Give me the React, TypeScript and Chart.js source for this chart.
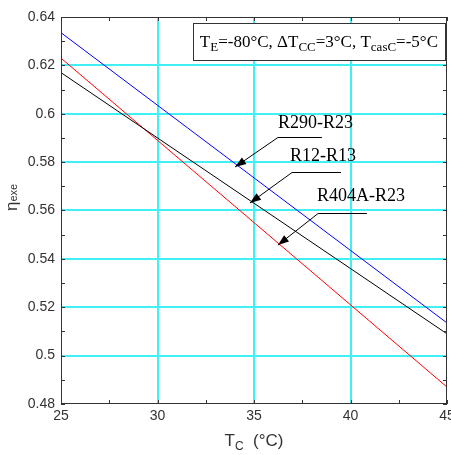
import React, { useEffect, useRef } from 'react';
import { Chart, registerables } from 'chart.js';

Chart.register(...registerables);

const tcValues = [25, 30, 35, 40, 45];
const r290R23 = [0.6335, 0.6035, 0.5735, 0.5435, 0.5135];
const r12R13 = [0.617, 0.590, 0.563, 0.536, 0.509];
const r404aR23 = [0.623, 0.589, 0.555, 0.521, 0.487];
const seriesLabels = ['R290-R23', 'R12-R13', 'R404A-R23'];
const seriesColors = ['#0000ff', '#000000', '#ff0000'];
const xMin = 25, xMax = 45, xStep = 5, xMinorStep = 2.5;
const yMin = 0.48, yMax = 0.64, yStep = 0.02, yMinorStep = 0.01;

// callouts in data coordinates: text left/baseline, horizontal leader (x1..x2 at y), arrow tip
const calloutTextX = [36.24, 36.87, 38.26];
const calloutTextY = [0.5941, 0.5805, 0.564];
const calloutLineX1 = [36.24, 36.97, 38.32];
const calloutLineX2 = [38.52, 39.51, 40.85];
const calloutLineY = [0.5904, 0.5759, 0.559];
const calloutTipX = [34.02, 34.79, 36.24];
const calloutTipY = [0.578, 0.5631, 0.5457];

const SERIF = '"Liberation Serif", "Times New Roman", serif';
const SANS = '"Liberation Sans", Arial, sans-serif';
const GRID = '#3ff0f5';
const FRAME = '#333333';

type Piece = { t: string; sub?: boolean };

function drawPieces(ctx: CanvasRenderingContext2D, pieces: Piece[], x: number, y: number, size: number, subSize: number, family: string, subDrop: number) {
  let cx = x;
  for (const p of pieces) {
    ctx.font = `${p.sub ? subSize : size}px ${family}`;
    ctx.fillText(p.t, cx, p.sub ? y + subDrop : y);
    cx += ctx.measureText(p.t).width;
  }
  return cx - x;
}
function measurePieces(ctx: CanvasRenderingContext2D, pieces: Piece[], size: number, subSize: number, family: string) {
  let w = 0;
  for (const p of pieces) {
    ctx.font = `${p.sub ? subSize : size}px ${family}`;
    w += ctx.measureText(p.t).width;
  }
  return w;
}

const decorPlugin = {
  id: 'decor',
  afterDatasetsDraw(chart: any) {
    const ctx: CanvasRenderingContext2D = chart.ctx;
    const area = chart.chartArea;
    const xs = chart.scales.x;
    const ys = chart.scales.y;
    ctx.save();
    // frame
    ctx.strokeStyle = FRAME;
    ctx.lineWidth = 1;
    ctx.strokeRect(Math.round(area.left) + 0.5, Math.round(area.top) + 0.5, Math.round(area.right - area.left) - 1, Math.round(area.bottom - area.top) - 1);
    // inside ticks
    ctx.beginPath();
    const tl = 4;
    for (let v = xMin; v <= xMax + 1e-9; v += xMinorStep) {
      const px = Math.round(xs.getPixelForValue(v)) + 0.5;
      ctx.moveTo(px, area.bottom); ctx.lineTo(px, area.bottom - tl);
      ctx.moveTo(px, area.top); ctx.lineTo(px, area.top + tl);
    }
    for (let v = yMin; v <= yMax + 1e-9; v += yMinorStep) {
      const py = Math.round(ys.getPixelForValue(v)) + 0.5;
      ctx.moveTo(area.left, py); ctx.lineTo(area.left + tl, py);
      ctx.moveTo(area.right, py); ctx.lineTo(area.right - tl, py);
    }
    ctx.stroke();

    // callouts
    ctx.fillStyle = '#000';
    ctx.strokeStyle = '#000';
    ctx.textBaseline = 'alphabetic';
    ctx.textAlign = 'left';
    for (let i = 0; i < seriesLabels.length; i++) {
      ctx.font = `18px ${SERIF}`;
      ctx.fillText(seriesLabels[i], xs.getPixelForValue(calloutTextX[i]), ys.getPixelForValue(calloutTextY[i]));
      const x1 = xs.getPixelForValue(calloutLineX1[i]);
      const x2 = xs.getPixelForValue(calloutLineX2[i]);
      const ly = Math.round(ys.getPixelForValue(calloutLineY[i])) + 0.5;
      const tx = xs.getPixelForValue(calloutTipX[i]);
      const ty = ys.getPixelForValue(calloutTipY[i]);
      ctx.beginPath();
      ctx.moveTo(x2, ly); ctx.lineTo(x1, ly); ctx.lineTo(tx, ty);
      ctx.stroke();
      const ang = Math.atan2(ty - ly, tx - x1);
      const L = 11, W = 4;
      const bx = tx - L * Math.cos(ang), by = ty - L * Math.sin(ang);
      ctx.beginPath();
      ctx.moveTo(tx, ty);
      ctx.lineTo(bx + W * Math.sin(ang), by - W * Math.cos(ang));
      ctx.lineTo(bx - W * Math.sin(ang), by + W * Math.cos(ang));
      ctx.closePath();
      ctx.fill();
    }

    // condition box
    const pieces: Piece[] = [
      { t: 'T' }, { t: 'E', sub: true }, { t: '=-80°C, ΔT' }, { t: 'CC', sub: true },
      { t: '=3°C, T' }, { t: 'casC', sub: true }, { t: '=-5°C' },
    ];
    const size = 17, subSize = 13;
    const w = measurePieces(ctx, pieces, size, subSize, SERIF);
    const boxRight = area.right - 2;
    const boxLeft = boxRight - w - 14;
    const boxTop = area.top + 6;
    const boxBottom = area.top + 43;
    ctx.fillStyle = '#fff';
    ctx.fillRect(boxLeft, boxTop, boxRight - boxLeft, boxBottom - boxTop);
    ctx.strokeStyle = '#333';
    ctx.strokeRect(Math.round(boxLeft) + 0.5, Math.round(boxTop) + 0.5, Math.round(boxRight - boxLeft), Math.round(boxBottom - boxTop));
    ctx.fillStyle = '#000';
    drawPieces(ctx, pieces, boxLeft + 7, boxTop + 24, size, subSize, SERIF, 4);

    // axis titles
    ctx.fillStyle = '#333';
    const xt: Piece[] = [{ t: 'T' }, { t: 'C', sub: true }, { t: '  (°C)' }];
    const xw = measurePieces(ctx, xt, 17, 12, SANS);
    drawPieces(ctx, xt, (area.left + area.right) / 2 - xw / 2, 446, 17, 12, SANS, 4);
    ctx.translate(17, 211);
    ctx.rotate(-Math.PI / 2);
    const yt: Piece[] = [{ t: 'η' }, { t: 'exe', sub: true }];
    drawPieces(ctx, yt, 0, 0, 17, 11, SANS, 0);
    ctx.restore();
  },
};

export default function App() {
  const ref = useRef<HTMLCanvasElement | null>(null);
  useEffect(() => {
    if (!ref.current) return;
    const mk = (vals: number[]) => tcValues.map((x, i) => ({ x, y: vals[i] }));
    const series = [r290R23, r12R13, r404aR23];
    const chart = new Chart(ref.current, {
      type: 'line',
      data: {
        datasets: series.map((s, i) => ({
          label: seriesLabels[i],
          data: mk(s),
          borderColor: seriesColors[i],
          borderWidth: 1,
          pointRadius: 0,
          tension: 0,
          fill: false,
        })),
      },
      options: {
        responsive: false,
        animation: false,
        events: [],
        layout: { padding: { left: 0, right: 4, top: 17, bottom: 0 } },
        plugins: { legend: { display: false }, tooltip: { enabled: false }, title: { display: false } },
        scales: {
          x: {
            type: 'linear',
            min: xMin, max: xMax,
            afterFit: (s: any) => { s.height = 51; s.paddingRight = 0; s.paddingLeft = 0; },
            ticks: { stepSize: xStep, color: '#333', font: { family: SANS, size: 14 }, padding: 4, maxRotation: 0 },
            grid: {
              drawTicks: false,
              lineWidth: 2,
              color: (c: any) => (c.tick && c.tick.value > xMin && c.tick.value < xMax ? GRID : 'rgba(0,0,0,0)'),
            },
            border: { display: false },
          },
          y: {
            type: 'linear',
            min: yMin, max: yMax,
            afterFit: (s: any) => { s.width = 61; s.paddingTop = 0; s.paddingBottom = 0; },
            ticks: {
              stepSize: yStep, color: '#333', font: { family: SANS, size: 14 }, padding: 6,
              callback: (v: any) => String(Math.round(Number(v) * 100) / 100),
            },
            grid: {
              drawTicks: false,
              lineWidth: 2,
              color: (c: any) => (c.tick && c.tick.value > yMin + 1e-6 && c.tick.value < yMax - 1e-6 ? GRID : 'rgba(0,0,0,0)'),
            },
            border: { display: false },
          },
        },
      },
      plugins: [decorPlugin],
    });
    return () => chart.destroy();
  }, []);
  return (
    <div style={{ position: 'fixed', left: 0, top: 0, width: 451, height: 455, background: '#fff' }}>
      <canvas ref={ref} width={451} height={455} style={{ width: 451, height: 455, display: 'block' }} />
    </div>
  );
}
